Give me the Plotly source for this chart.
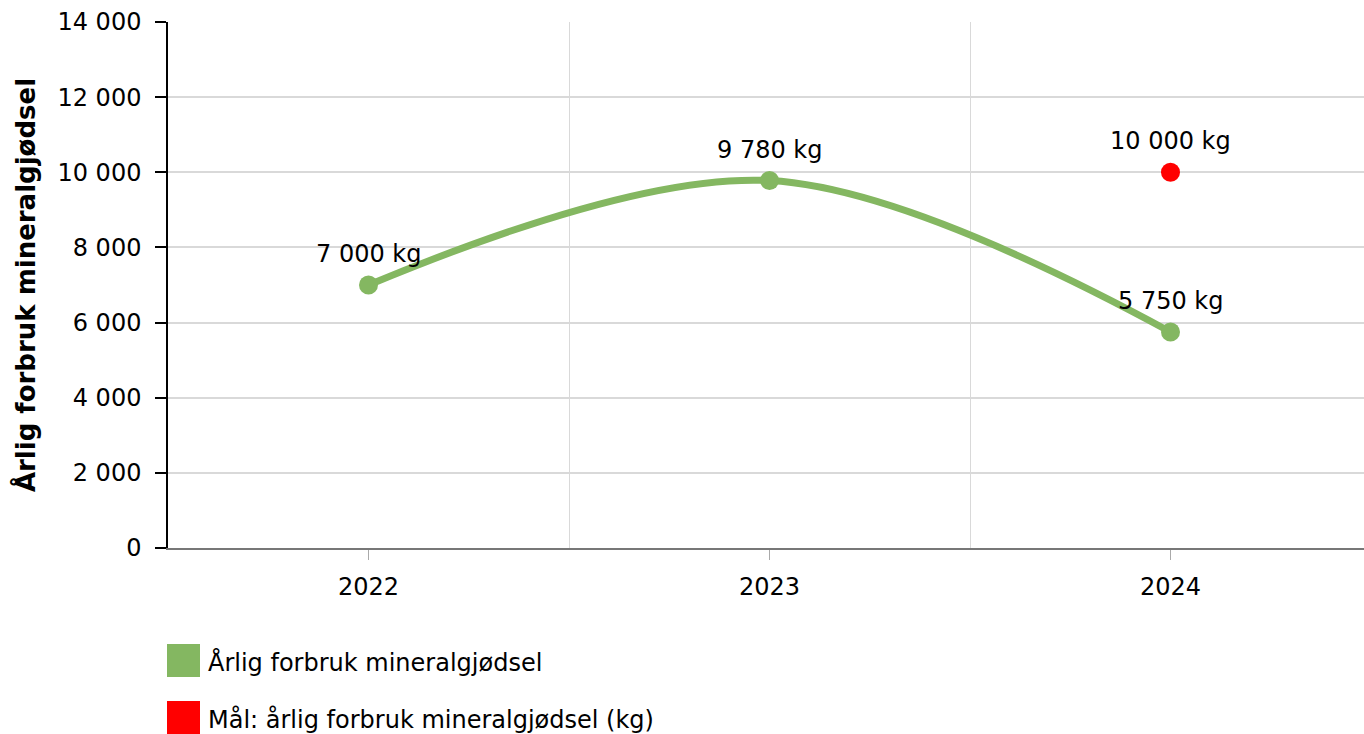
import plotly.graph_objects as go

years = [2022, 2023, 2024]
usage_kg = [7000, 9780, 5750]
goal_year = [2024]
goal_kg = [10000]
y_ticks = [0, 2000, 4000, 6000, 8000, 10000, 12000, 14000]
series_names = ["Årlig forbruk mineralgjødsel", "Mål: årlig forbruk mineralgjødsel (kg)"]
y_title = "Årlig forbruk mineralgjødsel"

GREEN = "#84b761"
RED = "#ff0000"
FONT = "DejaVu Sans"
FS = 24

W, H = 1371, 734
ML, MR, MT, MB = 168, 0, 22, 186
PW, PH = W - ML - MR, H - MT - MB


def fmt(v):
    return f"{v:,}".replace(",", " ")


def px_x(x):
    return (x - ML) / PW


def px_y(y):
    return (H - MB - y) / PH


fig = go.Figure()
fig.add_trace(go.Scatter(
    x=years, y=usage_kg, mode="lines+markers",
    line=dict(color=GREEN, width=7, shape="spline", smoothing=1.0),
    marker=dict(color=GREEN, size=19),
    name=series_names[0], showlegend=False, hoverinfo="skip",
))
fig.add_trace(go.Scatter(
    x=goal_year, y=goal_kg, mode="markers",
    marker=dict(color=RED, size=19),
    name=series_names[1], showlegend=False, hoverinfo="skip",
))

for xs, ys in ((years, usage_kg), (goal_year, goal_kg)):
    for xv, yv in zip(xs, ys):
        fig.add_annotation(x=xv, y=yv, text=f"{fmt(yv)} kg", showarrow=False,
                           yshift=31, font=dict(family=FONT, size=FS, color="#000"))

# custom legend (large square swatches)
legend_colors = [GREEN, RED]
for i, (name, col) in enumerate(zip(series_names, legend_colors)):
    ytop = 644 + i * 57
    fig.add_shape(type="rect", xref="paper", yref="paper",
                  x0=px_x(167), x1=px_x(200),
                  y0=px_y(ytop), y1=px_y(ytop + 33),
                  fillcolor=col, line=dict(width=0))
    fig.add_annotation(xref="paper", yref="paper", x=px_x(206),
                       y=px_y(ytop + 18), xanchor="left", yanchor="middle",
                       text=name, showarrow=False,
                       font=dict(family=FONT, size=FS, color="#000"))

fig.update_layout(
    width=W, height=H,
    margin=dict(l=ML, r=MR, t=MT, b=MB),
    paper_bgcolor="white", plot_bgcolor="white",
    font=dict(family=FONT, size=FS, color="#000"),
    showlegend=False,
)
fig.update_xaxes(
    range=[2021.5, 2024.5], tickvals=years, ticktext=[str(y) for y in years],
    showgrid=False, zeroline=False,
    showline=True, linecolor="#777777", linewidth=1.5,
    ticks="outside", ticklen=10, tickcolor="#aaaaaa", tickwidth=1,
    ticklabelstandoff=6,
    minor=dict(tickvals=[2022.5, 2023.5], showgrid=True, gridcolor="#d9d9d9", gridwidth=1, ticks=""),
    tickfont=dict(family=FONT, size=FS, color="#000"),
    fixedrange=True,
)
fig.update_yaxes(
    range=[0, 14000], tickvals=y_ticks, ticktext=[fmt(v) for v in y_ticks],
    showgrid=True, gridcolor="#d9d9d9", gridwidth=1.5, zeroline=False,
    showline=True, linecolor="#000", linewidth=1.5,
    ticks="outside", ticklen=11, tickcolor="#000", tickwidth=1.5,
    ticklabelstandoff=9,
    tickfont=dict(family=FONT, size=FS, color="#000"),
    title=dict(text=y_title, font=dict(family=FONT, size=26, color="#000", weight="bold"), standoff=14),
    fixedrange=True,
)

fig.write_html(
    "out.html",
    config={"displayModeBar": False},
    post_script="document.body.style.margin='0';document.body.style.overflow='hidden';",
)
